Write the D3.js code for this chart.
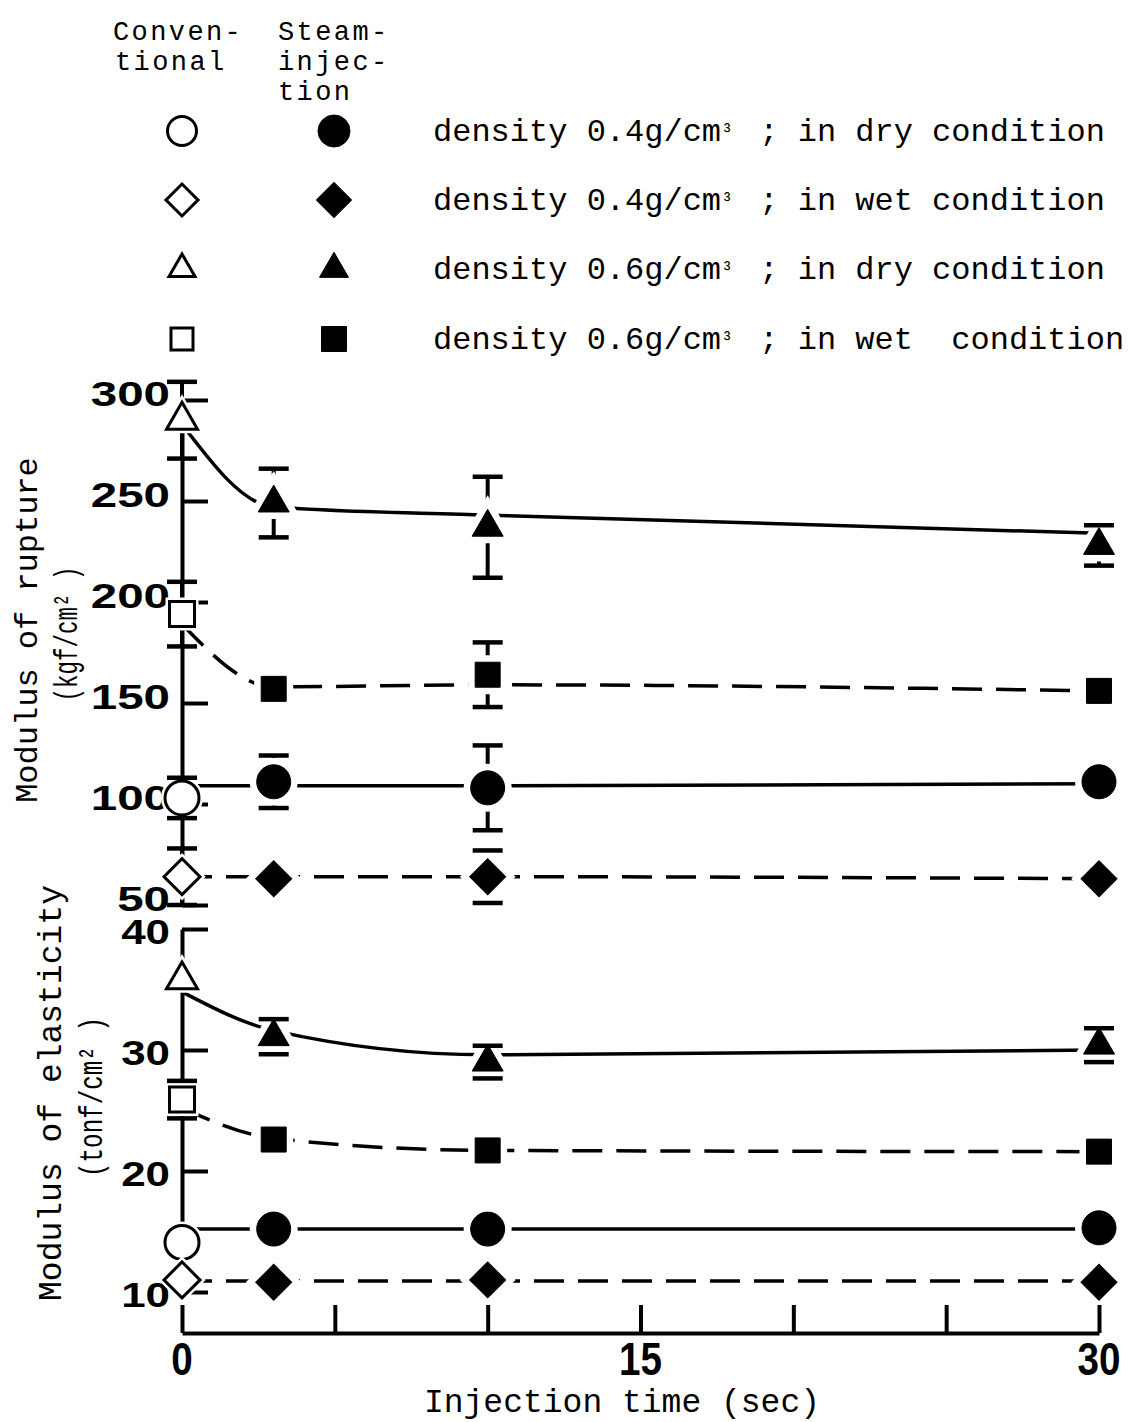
<!DOCTYPE html>
<html>
<head>
<meta charset="utf-8">
<script src="https://cdn.jsdelivr.net/npm/d3@7"></script>
<style>
  body { margin: 0; background: #fff; }
  svg { display: block; }
  text { white-space: pre; }
</style>
</head>
<body>
<svg id="chart"></svg>
<script>
// injection time (sec); the 0 s values are the conventional boards
const times = [0, 3, 10, 30];
const xTicks = [0, 5, 10, 15, 20, 25, 30];
const xTickLabels = [0, 15, 30];

// Modulus of rupture (kgf/cm2)
const morTicks = [50, 100, 150, 200, 250, 300];
const morDry04 = [103, 111, 108, 111];
const morDry04Err = [10, 13, 21, 0];
const morDry04Fit = [109, 109, 109, 110];
const morWet04 = [64, 63, 64, 63];
const morWet04Err = [14, 0, 13, 0];
const morWet04Fit = [64, 64, 64, 63];
const morDry06 = [290, 249, 237, 228];
const morDry06Err = [19, 17, 25, 10];
const morDry06Fit = [288, 247, 243, 234];
const morWet06 = [194, 157, 164, 156];
const morWet06Err = [16, 0, 16, 0];
const morWet06Fit = [189, 158, 159, 156];

// Modulus of elasticity (tonf/cm2)
const moeTicks = [10, 20, 30, 40];
const moeDry04 = [14.1, 15.2, 15.2, 15.3];
const moeDry04Err = [0, 0, 0, 0];
const moeDry04Fit = [15.2, 15.2, 15.2, 15.2];
const moeWet04 = [11.0, 10.8, 11.0, 10.8];
const moeWet04Err = [0, 0, 0, 0];
const moeWet04Fit = [10.9, 10.9, 10.9, 10.9];
const moeDry06 = [35.8, 31.1, 29.0, 30.4];
const moeDry06Err = [0, 1.45, 1.35, 1.4];
const moeDry06Fit = [34.8, 31.6, 29.6, 30.0];
const moeWet06 = [25.9, 22.6, 21.7, 21.6];
const moeWet06Err = [1.55, 0, 0, 0];
const moeWet06Fit = [25.2, 22.7, 21.7, 21.6];

// legend text, split round the superscript
const legendDensity = ["0.4", "0.4", "0.6", "0.6"];
const legendCondition = ["in dry condition", "in wet condition", "in dry condition", "in wet  condition"];
const legendShapes = ["circle", "diamond", "triangle", "square"];

const width = 1129;
const height = 1422;
const mono = "'Liberation Mono', 'DejaVu Sans Mono', monospace";
const sans = "'Liberation Sans', Arial, sans-serif";

const svg = d3.select('#chart')
    .attr('width', width)
    .attr('height', height);

const x = d3.scaleLinear().domain([0, 30]).range([182, 1099]);
const yMor = d3.scaleLinear().domain([50, 300]).range([905, 400]);
const yMoe = d3.scaleLinear().domain([10, 40]).range([1292, 929]);
const xAxisY = 1333;

// marker path for a shape, sized in px
function symbolPath(shape, size) {
    if (shape === 'circle') return d3.symbol(d3.symbolCircle, Math.PI * size * size / 4)();
    if (shape === 'square') return d3.symbol(d3.symbolSquare, size * size)();
    if (shape === 'diamond') return d3.symbol(d3.symbolSquare, size * size / 2)();
    return d3.symbol(d3.symbolTriangle, Math.sqrt(3) / 4 * size * size)();
}
const markerSize = { circle: 34, square: 25, diamond: 36, triangle: 31 };

function drawMarker(g, shape, cx, cy, filled, size) {
    const rot = shape === 'diamond' ? ' rotate(45)' : '';
    const d = symbolPath(shape, size || markerSize[shape]);
    g.append('path')
        .attr('d', d)
        .attr('transform', `translate(${cx},${cy})${rot}`)
        .attr('fill', '#fff')
        .attr('stroke', '#fff')
        .attr('stroke-width', filled ? 14 : 8);
    g.append('path')
        .attr('d', d)
        .attr('transform', `translate(${cx},${cy})${rot}`)
        .attr('fill', filled ? '#000' : '#fff')
        .attr('stroke', '#000')
        .attr('stroke-width', filled ? 1 : 3);
}

// Build panel series from the arrays
const morSeries = [
    { v: morDry04, e: morDry04Err, fit: morDry04Fit, shape: 'circle', dashed: false },
    { v: morWet04, e: morWet04Err, fit: morWet04Fit, shape: 'diamond', dashed: true },
    { v: morDry06, e: morDry06Err, fit: morDry06Fit, shape: 'triangle', dashed: false },
    { v: morWet06, e: morWet06Err, fit: morWet06Fit, shape: 'square', dashed: true }
];
const moeSeries = [
    { v: moeDry04, e: moeDry04Err, fit: moeDry04Fit, shape: 'circle', dashed: false },
    { v: moeWet04, e: moeWet04Err, fit: moeWet04Fit, shape: 'diamond', dashed: true },
    { v: moeDry06, e: moeDry06Err, fit: moeDry06Fit, shape: 'triangle', dashed: false },
    { v: moeWet06, e: moeWet06Err, fit: moeWet06Fit, shape: 'square', dashed: true }
];

function drawPanel(y, ticks, series, labelScale, labelDy) {
    const axis = svg.append('g')
        .attr('transform', `translate(${x(0)},0)`)
        .call(d3.axisRight(y).tickValues(ticks).tickSize(26).tickSizeOuter(0).tickFormat(''));
    axis.selectAll('path, line').attr('stroke', '#000').attr('stroke-width', 4);

    svg.append('g').selectAll('text')
        .data(ticks)
        .enter().append('text')
        .attr('transform', d => `translate(170,${y(d) + labelDy}) scale(${labelScale},1)`)
        .attr('text-anchor', 'end')
        .attr('font-family', sans)
        .attr('font-weight', 'bold')
        .attr('font-size', 36)
        .text(d => d);

    const line = d3.line()
        .x((d, i) => x(times[i]))
        .y(d => y(d))
        .curve(d3.curveMonotoneX);

    const g = svg.append('g');
    series.forEach(s => {
        g.append('path')
            .attr('d', line(s.fit))
            .attr('fill', 'none')
            .attr('stroke', '#000')
            .attr('stroke-width', 3.5)
            .attr('stroke-dasharray', s.dashed ? '30,14' : null);
    });

    // error bars
    series.forEach(s => {
        s.v.forEach((v, i) => {
            if (!s.e[i]) return;
            const cx = x(times[i]);
            g.append('line')
                .attr('x1', cx).attr('x2', cx)
                .attr('y1', y(v + s.e[i])).attr('y2', y(v - s.e[i]))
                .attr('stroke', '#000').attr('stroke-width', 4);
        });
    });

    // markers: open for conventional (0 s), filled for steam-injection
    series.forEach(s => {
        s.v.forEach((v, i) => {
            drawMarker(g, s.shape, x(times[i]), y(v), i > 0);
        });
    });
    // error bar caps on top so the halos don't hide them
    series.forEach(s => {
        s.v.forEach((v, i) => {
            if (!s.e[i]) return;
            const cx = x(times[i]);
            [v + s.e[i], v - s.e[i]].forEach(b => {
                g.append('line')
                    .attr('x1', cx - 15).attr('x2', cx + 15)
                    .attr('y1', y(b)).attr('y2', y(b))
                    .attr('stroke', '#000').attr('stroke-width', 4.5);
            });
        });
    });
}

drawPanel(yMor, morTicks, morSeries, 1.32, 6);
drawPanel(yMoe, moeTicks, moeSeries, 1.22, 15);

// x axis
const xAxis = svg.append('g')
    .attr('transform', `translate(0,${xAxisY})`)
    .call(d3.axisTop(x).tickValues(xTicks).tickSize(28).tickSizeOuter(0).tickFormat(''));
xAxis.selectAll('path, line').attr('stroke', '#000').attr('stroke-width', 4);

svg.append('g').selectAll('text')
    .data(xTickLabels)
    .enter().append('text')
    .attr('transform', d => `translate(${x(d)},1375) scale(0.84,1)`)
    .attr('text-anchor', 'middle')
    .attr('font-family', sans)
    .attr('font-weight', 'bold')
    .attr('font-size', 46)
    .text(d => d);

svg.append('text')
    .attr('x', 622).attr('y', 1412)
    .attr('text-anchor', 'middle')
    .attr('font-family', mono)
    .attr('font-size', 33)
    .text('Injection time (sec)');

// y axis titles
function yTitle(text, bx, cy, size, len) {
    const t = svg.append('text')
        .attr('transform', `translate(${bx},${cy}) rotate(-90)`)
        .attr('text-anchor', 'middle')
        .attr('font-family', mono)
        .attr('font-size', size)
        .text(text);
    if (len) t.attr('textLength', len).attr('lengthAdjust', 'spacingAndGlyphs');
}
yTitle('Modulus of rupture', 37, 630, 32);
yTitle('(kgf/cm\u00b2 )', 77, 634, 34, 135);
yTitle('Modulus of elasticity', 61, 1093, 33);
yTitle('(tonf/cm\u00b2 )', 102, 1097, 34, 160);

// legend header
const header = svg.append('g')
    .attr('font-family', mono)
    .attr('font-size', 27)
    .attr('letter-spacing', 2.4);
[['Conven-', 113, 40], ['tional', 115, 70], ['Steam-', 278, 40], ['injec-', 278, 70], ['tion', 278, 100]]
    .forEach(([t, tx, ty]) => header.append('text').attr('x', tx).attr('y', ty).text(t));

const legendY = [131, 200, 269, 339];
const legendSize = { circle: 29, square: 22, diamond: 32, triangle: 26 };
const lg = svg.append('g');
legendShapes.forEach((shape, i) => {
    drawMarker(lg, shape, 182, legendY[i], false, legendSize[shape]);
    drawMarker(lg, shape, 334, legendY[i], true, legendSize[shape] + 3);
    const t = lg.append('text')
        .attr('x', 433).attr('y', legendY[i] + 10)
        .attr('font-family', mono)
        .attr('font-size', 32);
    t.append('tspan').text(`density ${legendDensity[i]}g/cm`);
    t.append('tspan').attr('font-size', 20).attr('dy', -3).text('\u00b3');
    t.append('tspan').attr('dy', 3).attr('dx', 7).text(` ; ${legendCondition[i]}`);
});
</script>
</body>
</html>
